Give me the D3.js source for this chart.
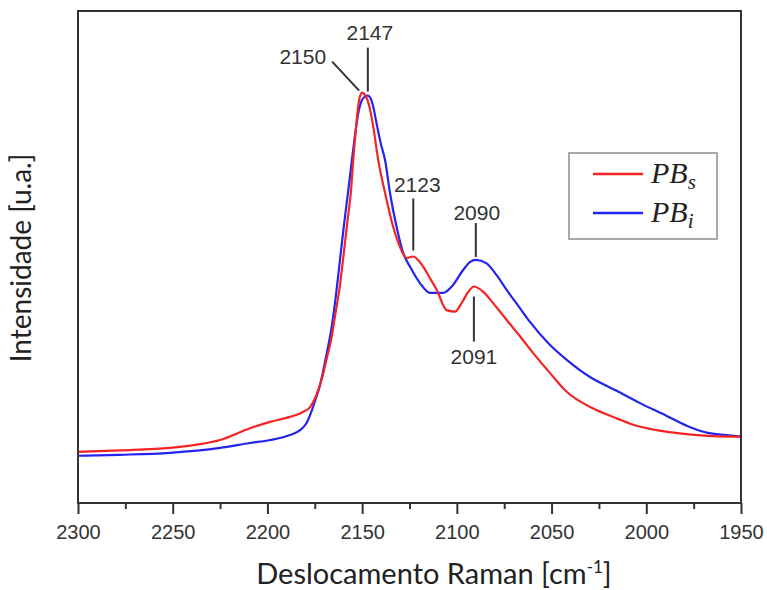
<!DOCTYPE html>
<html>
<head>
<meta charset="utf-8">
<script src="https://cdn.jsdelivr.net/npm/d3@7"></script>
<style>
  html, body { margin: 0; padding: 0; background: #fff; }
  svg { display: block; }
</style>
</head>
<body>
<svg id="chart" width="767" height="590"></svg>
<script>
// Raman spectra of the two PB samples, intensity in arbitrary units (0–100 frame height)
const pbsShift = [2300, 2277.8, 2251.4, 2238.2, 2225, 2209.2, 2198.6, 2188.1, 2181.2, 2177.5,
  2174.4, 2171.2, 2168.6, 2166.4, 2163.8, 2161.7, 2160.1, 2158.0, 2156.0, 2154.3,
  2153.2, 2152.2, 2151.1, 2150, 2149.0, 2148.0, 2146.4, 2144.1, 2141.5, 2137.9,
  2133.6, 2130.0, 2126.5, 2123, 2120.5, 2117.7, 2114.2, 2110.6, 2105.4, 2101.0,
  2097.4, 2094.0, 2091, 2086.0, 2080.8, 2073.7, 2066.7, 2059.6, 2050.8, 2042.0,
  2028.0, 2015.6, 2006.9, 1994.5, 1978.7, 1964.6, 1950];
const pbsIntensity = [10.4, 10.7, 11.2, 11.8, 12.8, 15.2, 16.5, 17.5, 18.5, 19.5,
  21.7, 25.4, 29.5, 33.1, 39.2, 44.3, 49.4, 56.5, 63.0, 71.7,
  76.4, 80.3, 82.7, 83.4, 83.2, 82.6, 80.9, 76.4, 69.7, 63.0,
  56.1, 52.0, 49.8, 50.1, 49.4, 48.0, 45.7, 43.3, 39.2, 38.9,
  40.7, 42.9, 44.0, 42.9, 40.6, 37.2, 33.9, 30.4, 26.4, 22.6,
  19.2, 17.2, 15.9, 14.8, 14.0, 13.6, 13.5];

const pbiShift = [2300, 2277.8, 2251.4, 2225, 2209.2, 2198.6, 2188.1, 2182.8, 2179.6, 2176.5,
  2174.4, 2172.2, 2169.6, 2166.1, 2163.8, 2161.7, 2159.6, 2157.5, 2155.4, 2153.2,
  2151.7, 2150.2, 2148.5, 2147, 2144.8, 2142.0, 2140.0, 2137.9, 2135.3, 2131.8,
  2128.3, 2124.7, 2119.5, 2114.2, 2110.5, 2107.2, 2102.7, 2096.6, 2093.0, 2090,
  2084.3, 2079.0, 2073.7, 2066.7, 2061.4, 2050.8, 2042.0, 2029.7, 2015.6, 2003.3,
  1989.2, 1978.7, 1968.1, 1957.6, 1950];
const pbiIntensity = [9.6, 9.8, 10.2, 11.2, 12.2, 12.8, 13.8, 14.8, 16.1, 18.9,
  21.3, 24.0, 28.7, 35.8, 42.3, 49.4, 56.5, 63.0, 69.7, 76.4,
  79.9, 81.8, 82.6, 82.8, 81.5, 76.4, 72.8, 69.7, 63.0, 56.1,
  50.8, 48.0, 44.7, 42.7, 42.7, 42.7, 44.0, 47.4, 49.0, 49.4,
  48.7, 46.3, 43.3, 39.6, 36.8, 32.1, 29.1, 25.6, 22.8, 20.3,
  17.7, 15.7, 14.3, 13.8, 13.5];

const majorTicks = [2300, 2250, 2200, 2150, 2100, 2050, 2000, 1950];
const minorTicks = [2275, 2225, 2175, 2125, 2075, 2025, 1975];

// Labelled band positions and the spectrum each one belongs to
const peakShifts = [2150, 2147, 2123, 2090, 2091];
const peakSeries = ["PBs", "PBi", "PBs", "PBi", "PBs"];

const seriesNames = ["PBs", "PBi"];
const seriesBase = ["PB", "PB"];
const seriesSub = ["s", "i"];
const seriesColors = ["#f52424", "#2424f0"];

// ---- layout ----
const plot = { left: 78, right: 741, top: 11, bottom: 503 };

const svg = d3.select("#chart");

const x = d3.scaleLinear().domain([2300, 1950]).range([plot.left, plot.right]);
const y = d3.scaleLinear().domain([0, 100]).range([plot.bottom, plot.top]);

const series = {
  PBs: d3.zip(pbsShift, pbsIntensity),
  PBi: d3.zip(pbiShift, pbiIntensity)
};

const line = d3.line()
  .x(d => x(d[0]))
  .y(d => y(d[1]))
  .curve(d3.curveMonotoneX);

// spectra (blue drawn first, red on top)
["PBi", "PBs"].forEach(name => {
  const i = seriesNames.indexOf(name);
  svg.append("path")
    .datum(series[name])
    .attr("fill", "none")
    .attr("stroke", seriesColors[i])
    .attr("stroke-width", 2.2)
    .attr("stroke-linejoin", "round")
    .attr("d", line);
});

// bottom axis: major ticks with labels, minor ticks without
const axisColor = "#333";
const gMajor = svg.append("g")
  .attr("transform", `translate(0,${plot.bottom})`)
  .call(d3.axisBottom(x).tickValues(majorTicks).tickSize(11).tickPadding(11).tickFormat(d3.format("d")));
const gMinor = svg.append("g")
  .attr("transform", `translate(0,${plot.bottom})`)
  .call(d3.axisBottom(x).tickValues(minorTicks).tickSize(6).tickFormat(""));
[gMajor, gMinor].forEach(g => {
  g.select(".domain").remove();
  g.selectAll(".tick line").attr("stroke", axisColor).attr("stroke-width", 2);
});
gMajor.selectAll(".tick text")
  .attr("fill", "#333")
  .style("font-family", "'Liberation Sans', Arial, sans-serif")
  .style("font-size", "20px");

// plot frame
svg.append("rect")
  .attr("x", plot.left).attr("y", plot.top)
  .attr("width", plot.right - plot.left)
  .attr("height", plot.bottom - plot.top)
  .attr("fill", "none")
  .attr("stroke", axisColor)
  .attr("stroke-width", 2);

// axis titles
const titleFont = "Lato, 'Open Sans', sans-serif";
const xTitle = svg.append("text")
  .attr("x", 434)
  .attr("y", 584)
  .attr("text-anchor", "middle")
  .attr("fill", "#222")
  .style("font-family", titleFont)
  .style("font-size", "29px");
xTitle.append("tspan").text("Deslocamento Raman [cm");
xTitle.append("tspan").attr("dy", -11).style("font-size", "17px").text("-1");
xTitle.append("tspan").attr("dy", 11).text("]");

svg.append("text")
  .attr("transform", `translate(31,${(plot.top + plot.bottom) / 2 + 1}) rotate(-90)`)
  .attr("text-anchor", "middle")
  .attr("fill", "#222")
  .style("font-family", titleFont)
  .style("font-size", "28px")
  .text("Intensidade [u.a.]");

// peak annotations: leader line from the band maximum to its label
const annFont = "'Liberation Sans', Arial, sans-serif";
const leaderStyle = {
  2150: { x1: -3, y1: -2, x2: -30, y2: -31, tx: -36, ty: -36, anchor: "end" },
  2147: { x1: 0, y1: -4, x2: 0, y2: -48, tx: 2, ty: -63, anchor: "middle" },
  2123: { x1: 0, y1: -6, x2: 0, y2: -58, tx: 4, ty: -72, anchor: "middle" },
  2090: { x1: 0, y1: -3, x2: 0, y2: -37, tx: 1, ty: -48, anchor: "middle" },
  2091: { x1: 0, y1: 10, x2: 0, y2: 55, tx: 0, ty: 70, anchor: "middle" }
};
peakShifts.forEach((shift, k) => {
  const pts = series[peakSeries[k]];
  const pt = pts.find(p => p[0] === shift);
  const px = x(pt[0]), py = y(pt[1]);
  const s = leaderStyle[shift];
  svg.append("line")
    .attr("x1", px + s.x1).attr("y1", py + s.y1)
    .attr("x2", px + s.x2).attr("y2", py + s.y2)
    .attr("stroke", "#333").attr("stroke-width", 2);
  svg.append("text")
    .attr("x", px + s.tx).attr("y", py + s.ty)
    .attr("dy", "0.36em")
    .attr("text-anchor", s.anchor)
    .attr("fill", "#333")
    .style("font-family", annFont)
    .style("font-size", "21px")
    .text(shift);
});

// legend
const legend = svg.append("g");
legend.append("rect")
  .attr("x", 569).attr("y", 153).attr("width", 148).attr("height", 86)
  .attr("fill", "#fff").attr("stroke", "#8c8c8c").attr("stroke-width", 1.5);
seriesNames.forEach((name, i) => {
  const ly = 174 + i * 39;
  legend.append("line")
    .attr("x1", 593).attr("x2", 643).attr("y1", ly).attr("y2", ly)
    .attr("stroke", seriesColors[i]).attr("stroke-width", 2.4);
  const t = legend.append("text")
    .attr("x", 651).attr("y", ly + 9)
    .attr("fill", "#222")
    .style("font-family", "'Liberation Serif', 'DejaVu Serif', serif")
    .style("font-style", "italic")
    .style("font-size", "30px");
  t.append("tspan").text(seriesBase[i]);
  t.append("tspan").attr("dy", 6).style("font-size", "21px").text(seriesSub[i]);
});
</script>
</body>
</html>
